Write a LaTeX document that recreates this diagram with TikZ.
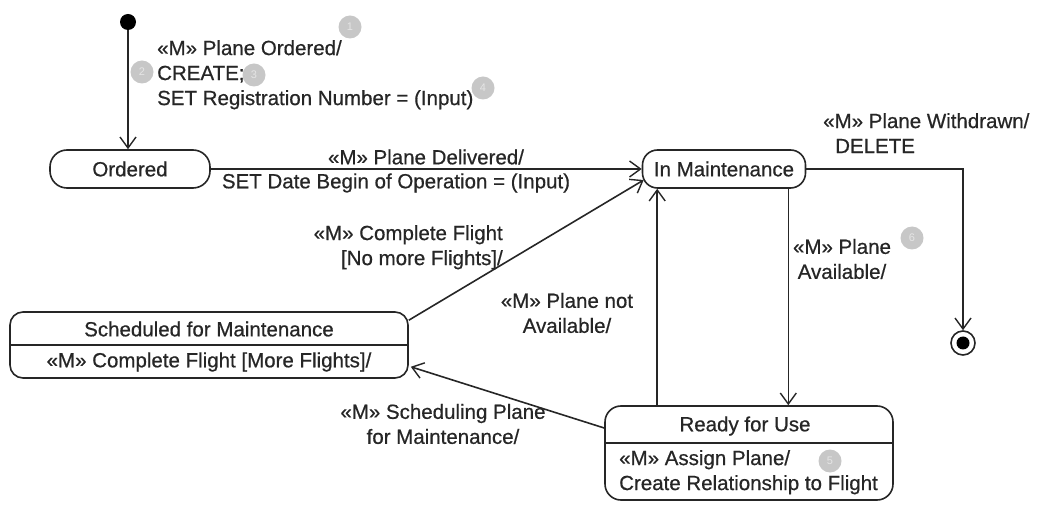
\documentclass[tikz,border=0pt]{standalone}
\usepackage{fontspec}
\setmainfont{Liberation Sans}
\newfontfamily\diagfont[FakeBold=0.6]{Liberation Sans}
\usetikzlibrary{arrows.meta,calc}

\tikzset{
  line/.style={line width=1.6pt, draw=black!85},
  tr/.style={line, -{Straight Barb[length=11pt,width=16pt,line width=1.4pt]}},
  statebox/.style={line, rounded corners=15pt, inner sep=0pt},
  lbl/.style={font=\diagfont\fontsize{20.5}{25}\selectfont, inner sep=0pt, text=black!85},
  marker/.style={circle, fill=black!22, minimum size=23pt, inner sep=0pt,
                 font=\fontsize{11}{11}\selectfont, text=black!10}
}

\begin{document}
\begin{tikzpicture}[x=1pt, y=-1pt]
\useasboundingbox (0,0) rectangle (1044,510);

% numbered markers
\node[marker] (m1) at (350,27) {1};
\node[marker] (m2) at (142,72) {2};
\node[marker] (m3) at (254,75) {3};
\node[marker] (m4) at (483,88) {4};
\node[marker] (m6) at (912,238) {6};
\node[marker] (m5) at (830,461) {5};

% pseudo states
\node[circle, fill=black, minimum size=16pt, inner sep=0pt] (init) at (128,22) {};
\node[circle, line, minimum size=24pt, inner sep=0pt] (final) at (963,343) {};
\node[circle, fill=black, minimum size=13pt, inner sep=0pt] (finaldot) at (963,343) {};

% simple states
\node[statebox, rounded corners=17pt, minimum width=160pt, minimum height=38pt, lbl] (ordered) at (130,169) {Ordered};
\node[statebox, rounded corners=15pt, minimum width=163pt, minimum height=38pt, lbl] (inmaint) at (724,169) {In Maintenance};

% composite states with an internal compartment
\node[statebox, rounded corners=13pt, minimum width=398pt, minimum height=66pt] (sched) at (209,345) {};
\draw[line] (sched.west) -- (sched.east);
\node[lbl] (schedname) at (209,329) {Scheduled for Maintenance};
\node[lbl] (schedact) at (209,362) {«M» Complete Flight [More Flights]/};

\node[statebox, rounded corners=16pt, minimum width=288pt, minimum height=94pt] (ready) at (749,453) {};
\draw[line] ([yshift=10pt]ready.west) -- ([yshift=10pt]ready.east);
\node[lbl] (readyname) at (745,426) {Ready for Use};
\node[lbl, align=left, anchor=north west] (readyact) at (619,450) {«M» Assign Plane/\\Create Relationship to Flight};

% transitions
\draw[tr] (init) -- (init |- ordered.north);
\node[lbl, align=left, anchor=north west] (tcreate) at (157,40) {«M» Plane Ordered/\\CREATE;\\SET Registration Number = (Input)};

\draw[tr] (ordered.east) -- (inmaint.west);
\node[lbl] (tdeliv1) at (426,157) {«M» Plane Delivered/};
\node[lbl] (tdeliv2) at (396,183) {SET Date Begin of Operation = (Input)};

\draw[tr] (inmaint.east) -| (final.north);
\node[lbl, align=left, anchor=north west] (twithdraw) at (823,113) {«M» Plane Withdrawn/\\\hspace{12pt}DELETE};

\draw[tr] ([yshift=-9pt]sched.north east) -- ([xshift=2pt,yshift=-11pt]inmaint.west);
\node[lbl, align=right, anchor=north east] (tnomore) at (503,225) {«M» Complete Flight\\{}[No more Flights]/};

\coordinate (rup) at ([xshift=53pt]ready.north west);
\draw[tr] (rup) -- (rup |- inmaint.south);
\node[lbl, align=center] (tnotavail) at (567,313) {«M» Plane not\\Available/};

\coordinate (mdown) at ([xshift=-18pt]inmaint.south east);
\draw[tr] (mdown) -- (mdown |- ready.north);
\node[lbl, align=center] (tavail) at (842,259) {«M» Plane\\Available/};

\draw[tr] ([yshift=25pt]ready.west) -- ([xshift=2pt,yshift=12pt]sched.south east);
\node[lbl, align=center] (tsched) at (443,424) {«M» Scheduling Plane\\for Maintenance/};
\end{tikzpicture}
\end{document}
